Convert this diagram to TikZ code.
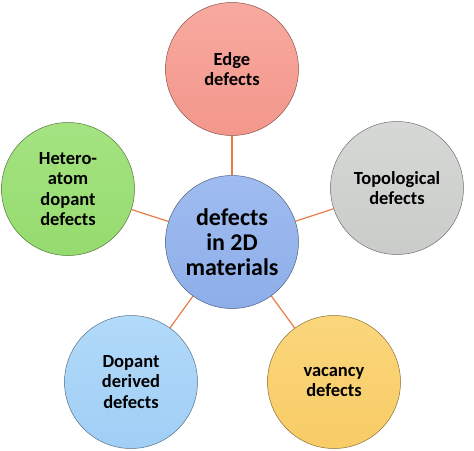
\documentclass[tikz,border=0pt]{standalone}
\usepackage{fontspec}
\setmainfont{Carlito}
\usepackage{xcolor}
\usepackage{tikz}
\usetikzlibrary{positioning,shapes,arrows}
\pgfdeclarelayer{bg}
\pgfsetlayers{bg,main}

\definecolor{edgetop}{HTML}{F8A9A0}
\definecolor{edgebot}{HTML}{F3978B}
\definecolor{heterotop}{HTML}{A5E382}
\definecolor{heterobot}{HTML}{95DB6E}
\definecolor{topotop}{HTML}{D5D8D5}
\definecolor{topobot}{HTML}{C9CCC9}
\definecolor{centretop}{HTML}{A0BCF0}
\definecolor{centrebot}{HTML}{8DAEE9}
\definecolor{dopanttop}{HTML}{B2DAF9}
\definecolor{dopantbot}{HTML}{A0CEF5}
\definecolor{vacancytop}{HTML}{FBD67C}
\definecolor{vacancybot}{HTML}{F8CC66}
\definecolor{spoke}{HTML}{EB7B45}

\begin{document}
\begin{tikzpicture}[
x=1pt, y=-1pt,
bubble/.style={circle, draw=#1bot!55!black, line width=0.5pt, minimum size=133pt, inner sep=0pt,
  align=center, font=\fontsize{18.5}{20.5}\selectfont\bfseries,
  top color=#1top, bottom color=#1bot},
hub/.style={bubble=#1, font=\fontsize{24}{25}\selectfont\bfseries},
link/.style={spoke, line width=1.2pt},
]
\useasboundingbox (0,0) rectangle (474,450);

%Centre
\node[hub=centre] (centre) at (232,242) {defects\\in 2D\\materials};

%Outer bubbles
\node[bubble=edge] (edge) at (232,69) {Edge\\defects};
\node[bubble=hetero] (hetero) at (68,189) {Hetero-\\atom\\dopant\\defects};
\node[bubble=topo] (topo) at (397,188) {Topological\\defects};
\node[bubble=dopant] (dopant) at (131,382) {Dopant\\derived\\defects};
\node[bubble=vacancy] (vacancy) at (334,382) {vacancy\\defects};

%Spokes
\begin{pgfonlayer}{bg}
\draw[link] (centre) -- (edge);
\draw[link] (centre) -- (hetero);
\draw[link] (centre) -- (topo);
\draw[link] (centre) -- (dopant);
\draw[link] (centre) -- (vacancy);
\end{pgfonlayer}
\end{tikzpicture}
\end{document}
